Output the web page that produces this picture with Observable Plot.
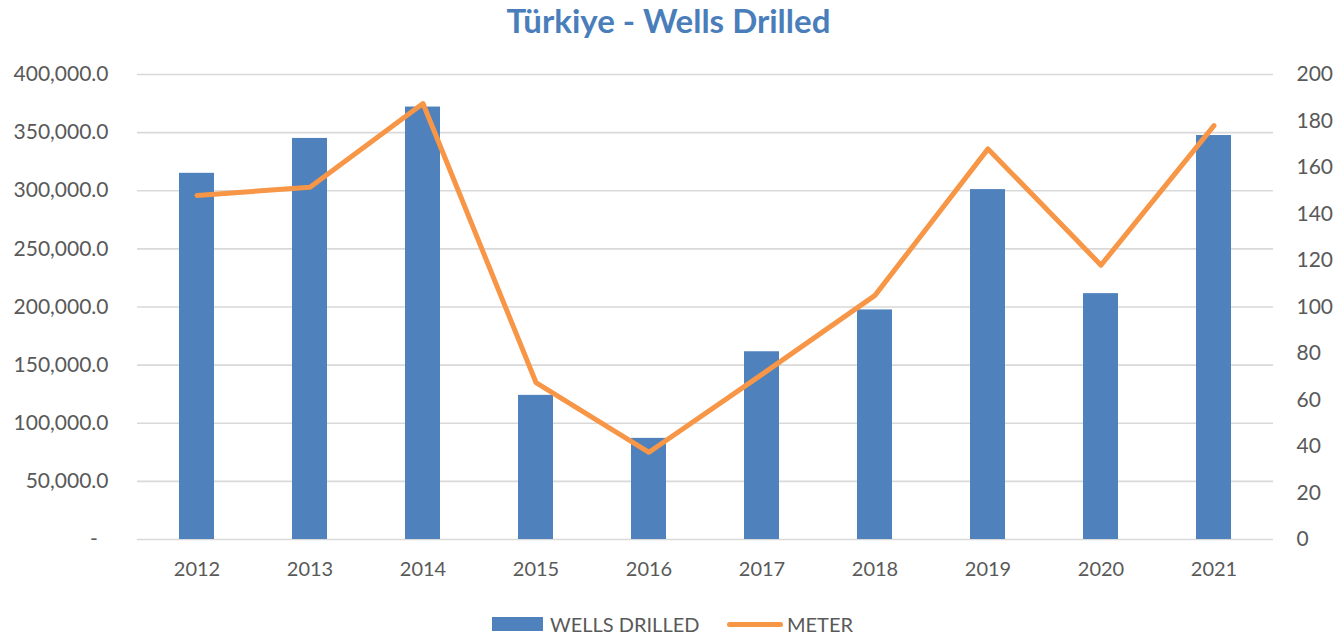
<!DOCTYPE html>
<html>
<head>
<meta charset="utf-8">
<script src="https://cdn.jsdelivr.net/npm/d3@7"></script>
<script src="https://cdn.jsdelivr.net/npm/@observablehq/plot@0.6"></script>
<style>
  html, body { margin: 0; padding: 0; background: #fff; }
  body { width: 1337px; height: 634px; overflow: hidden; font-family: Lato, "Open Sans", sans-serif; }
  #title { height: 40px; line-height: 40px; text-align: center; font-weight: bold; font-size: 33px; color: #4a7ebb; }
  #legend { position: absolute; top: 612px; left: 0; width: 1337px; height: 24px; font-size: 20px; color: #595959; }
  #legend .item { position: absolute; top: 0; height: 24px; line-height: 24px; display: flex; align-items: center; }
  svg { display: block; }
</style>
</head>
<body>
<div id="title">Türkiye - Wells Drilled</div>
<div id="chart"></div>
<div id="legend">
  <div class="item" style="left:492px"><span style="display:inline-block;width:51px;height:14px;background:#4f81bd;margin-right:7px"></span>WELLS DRILLED</div>
  <div class="item" style="left:727px"><span style="display:inline-block;width:56px;height:5px;border-radius:3px;background:#f79646;margin-right:4px"></span>METER</div>
</div>
<script>
const years = ["2012","2013","2014","2015","2016","2017","2018","2019","2020","2021"];
const wellsDrilled = [315000, 345000, 372000, 124000, 87000, 161500, 197500, 301000, 211500, 347500];
const meter = [148, 151.5, 187.5, 67.5, 37.5, 71, 105, 168, 118, 178];
const leftTicks = [0, 50000, 100000, 150000, 200000, 250000, 300000, 350000, 400000];
const rightTicks = [0, 20, 40, 60, 80, 100, 120, 140, 160, 180, 200];
const leftMax = 400000, rightMax = 200;
const k = leftMax / rightMax;

const data = years.map((y, i) => ({year: y, wells: wellsDrilled[i], meter: meter[i]}));
const fmtLeft = d => d === 0 ? "-\u00a0\u00a0" : d3.format(",.1f")(d);

const chart = Plot.plot({
  width: 1337,
  height: 560,
  marginLeft: 137,
  marginRight: 64,
  marginTop: 34,
  marginBottom: 61,
  style: {fontFamily: "Lato, 'Open Sans', sans-serif", fontSize: "20px", color: "#595959", background: "#fff"},
  x: {domain: years, paddingInner: 0.69, paddingOuter: 0.345},
  y: {domain: [0, leftMax]},
  marks: [
    Plot.ruleY(leftTicks, {stroke: "#d9d9d9", strokeWidth: 1.6}),
    Plot.barY(data, {x: "year", y: "wells", fill: "#4f81bd"}),
    Plot.line(data, {x: "year", y: d => d.meter * k, stroke: "#f79646", strokeWidth: 5, strokeLinecap: "round", strokeLinejoin: "round"}),
    Plot.axisY(leftTicks, {anchor: "left", tickSize: 0, tickPadding: 29, tickFormat: fmtLeft, label: null, fill: "#595959", fontSize: 21}),
    Plot.axisY(rightTicks.map(d => d * k), {anchor: "right", tickSize: 0, tickPadding: 23, tickFormat: d => String(d / k), label: null, fill: "#595959", fontSize: 21}),
    Plot.axisX({tickSize: 0, tickPadding: 22, label: null, fill: "#595959", fontSize: 20})
  ]
});
document.getElementById("chart").appendChild(chart);
</script>
</body>
</html>
